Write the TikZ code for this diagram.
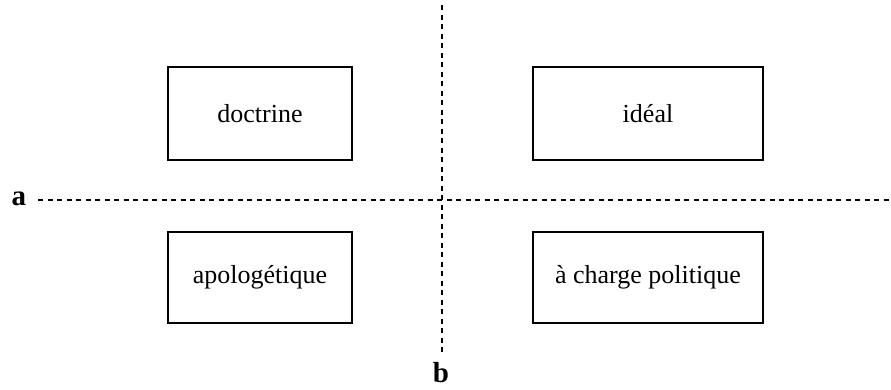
\documentclass[tikz,border=0pt]{standalone}
\usepackage{fontspec}
\setmainfont{Liberation Serif}
\begin{document}
\begin{tikzpicture}[x=1pt,y=-1pt,
  box/.style={draw,line width=2pt,inner sep=0pt,font=\fontsize{26}{30}\selectfont},
  axis/.style={line width=2pt,dash pattern=on 5pt off 4.5pt},
  lab/.style={font=\fontsize{29}{33}\selectfont\bfseries,inner sep=0pt}]
\useasboundingbox (0,0) rectangle (891,389);
\node[box,minimum width=184pt,minimum height=93pt] (doc) at (260,113.5) {doctrine};
\node[box,minimum width=230pt,minimum height=93pt] (ide) at (648,113.5) {idéal};
\node[box,minimum width=184pt,minimum height=91pt] (apo) at (260,277) {apologétique};
\node[box,minimum width=230pt,minimum height=91pt] (cha) at (648,277) {à charge politique};
\node[lab] (a) at (19,198.5) {a};
\node[lab] (b) at (441,373) {b};
\coordinate (hr) at (891,200);
\coordinate (hl) at (38,200);
\coordinate (vt) at (442,5);
\coordinate (vb) at (442,355);
\draw[axis] (hl) -- (hr);
\draw[axis] (vt) -- (vb);
\end{tikzpicture}
\end{document}
